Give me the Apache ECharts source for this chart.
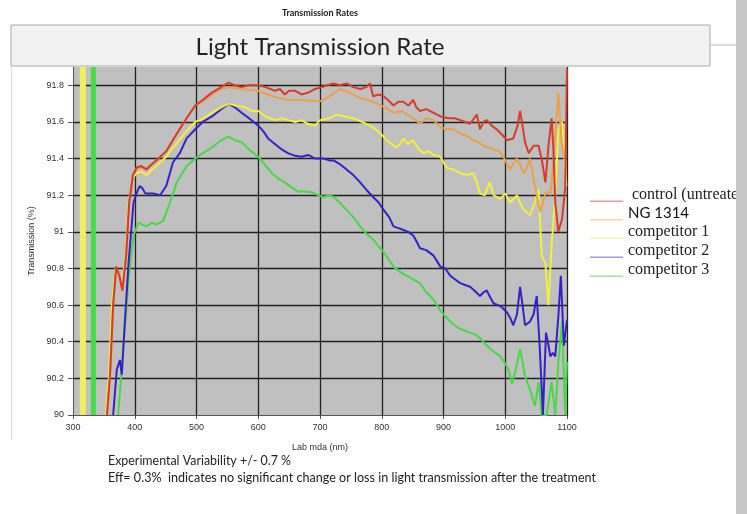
<!DOCTYPE html>
<html>
<head>
<meta charset="utf-8">
<title>Light Transmission Rate</title>
<script src="https://cdn.jsdelivr.net/npm/echarts@6/dist/echarts.min.js"></script>
<style>
  html, body { margin: 0; padding: 0; background: #fff; }
  #chart { width: 747px; height: 514px; }
</style>
</head>
<body>
<div id="chart"></div>
<script>
// wavelength (nm) / transmission (%) pairs
const controlData = [[355,90],[360,90.22],[365,90.6],[370,90.81],[375,90.76],[380,90.68],[386,90.87],[391,91.16],[397,91.31],[403,91.35],[410,91.36],[419,91.34],[428,91.37],[435,91.39],[451,91.44],[467,91.53],[484,91.62],[498,91.69],[510,91.72],[525,91.76],[540,91.79],[552,91.815],[562,91.8],[573,91.79],[585,91.8],[600,91.8],[612,91.79],[627,91.77],[635,91.78],[643,91.75],[650,91.77],[660,91.77],[670,91.75],[681,91.76],[692,91.78],[703,91.79],[712,91.8],[722,91.81],[732,91.8],[743,91.81],[754,91.79],[765,91.78],[775,91.79],[781,91.81],[786,91.74],[795,91.75],[803,91.74],[810,91.72],[819,91.69],[827,91.71],[835,91.71],[843,91.69],[851,91.72],[856,91.68],[862,91.66],[872,91.67],[884,91.65],[895,91.63],[908,91.62],[918,91.62],[927,91.61],[935,91.6],[943,91.59],[954,91.64],[959,91.56],[965,91.6],[970,91.61],[978,91.58],[986,91.56],[995,91.53],[1003,91.5],[1013,91.51],[1020,91.58],[1024,91.66],[1028,91.58],[1032,91.49],[1038,91.43],[1046,91.47],[1054,91.47],[1060,91.38],[1065,91.27],[1070,91.47],[1075,91.62],[1078,91.45],[1081,91.16],[1086,91.0],[1092,91.07],[1097,91.24],[1100,91.89]];
const ngData = [[355,90],[360,90.22],[365,90.6],[370,90.81],[375,90.76],[380,90.68],[386,90.87],[391,91.16],[397,91.31],[403,91.35],[410,91.35],[419,91.35],[428,91.37],[435,91.39],[451,91.44],[467,91.53],[484,91.62],[498,91.69],[510,91.71],[525,91.75],[540,91.78],[552,91.79],[573,91.78],[600,91.77],[615,91.75],[633,91.73],[650,91.72],[670,91.72],[690,91.715],[703,91.715],[715,91.74],[732,91.78],[748,91.76],[765,91.73],[778,91.72],[792,91.7],[805,91.68],[819,91.65],[833,91.66],[846,91.63],[855,91.61],[862,91.59],[872,91.62],[884,91.61],[895,91.57],[905,91.56],[916,91.56],[925,91.54],[932,91.53],[940,91.52],[948,91.5],[956,91.49],[965,91.47],[973,91.46],[981,91.45],[990,91.44],[997,91.41],[1003,91.37],[1008,91.34],[1013,91.37],[1019,91.4],[1025,91.36],[1030,91.32],[1035,91.35],[1040,91.4],[1044,91.33],[1048,91.25],[1052,91.18],[1057,91.11],[1061,91.16],[1065,91.21],[1069,91.22],[1073,91.2],[1077,91.35],[1081,91.52],[1086,91.76],[1089,91.6],[1092,91.47],[1095,91.42],[1099,91.38]];
const comp1Data = [[353,90],[358,90.2],[363,90.6],[369,90.8],[374,90.77],[379,90.7],[385,90.87],[390,91.15],[396,91.29],[403,91.32],[410,91.33],[419,91.31],[428,91.34],[435,91.36],[451,91.41],[467,91.48],[484,91.55],[498,91.6],[512,91.62],[525,91.65],[540,91.68],[552,91.7],[563,91.69],[579,91.68],[590,91.66],[600,91.66],[612,91.63],[627,91.61],[638,91.62],[649,91.61],[660,91.6],[670,91.61],[680,91.59],[692,91.58],[700,91.61],[715,91.62],[727,91.64],[740,91.63],[754,91.62],[768,91.6],[781,91.58],[790,91.56],[797,91.54],[808,91.5],[816,91.48],[824,91.46],[830,91.48],[835,91.51],[842,91.48],[851,91.5],[860,91.45],[868,91.43],[876,91.44],[884,91.42],[895,91.41],[905,91.35],[916,91.34],[927,91.32],[938,91.31],[948,91.32],[954,91.27],[959,91.21],[967,91.2],[975,91.27],[981,91.2],[992,91.18],[1000,91.21],[1008,91.16],[1019,91.2],[1025,91.15],[1030,91.12],[1040,91.09],[1048,91.16],[1054,91.23],[1059,90.87],[1065,90.83],[1070,90.6],[1075,90.92],[1081,91.2],[1086,91.56],[1092,91.6],[1099,91.25]];
const comp2Data = [[365,90],[371,90.25],[376,90.3],[379,90.22],[384,90.51],[390,90.83],[398,91.16],[404,91.22],[408,91.25],[412,91.24],[417,91.21],[425,91.21],[430,91.21],[441,91.2],[451,91.25],[462,91.38],[473,91.43],[484,91.51],[498,91.56],[510,91.6],[525,91.63],[540,91.67],[552,91.7],[562,91.68],[573,91.65],[585,91.62],[600,91.58],[608,91.55],[616,91.51],[627,91.48],[638,91.45],[648,91.43],[660,91.415],[670,91.41],[681,91.42],[692,91.4],[706,91.4],[715,91.39],[722,91.39],[732,91.37],[743,91.34],[754,91.31],[765,91.27],[775,91.23],[786,91.19],[795,91.16],[803,91.12],[812,91.08],[819,91.03],[827,91.02],[835,91.01],[843,91.0],[851,90.98],[856,90.95],[862,90.91],[872,90.9],[884,90.87],[895,90.81],[903,90.8],[911,90.76],[919,90.74],[927,90.72],[935,90.71],[943,90.7],[950,90.68],[959,90.65],[965,90.67],[970,90.68],[976,90.64],[981,90.61],[994,90.59],[1003,90.56],[1008,90.53],[1013,90.49],[1019,90.55],[1024,90.7],[1028,90.6],[1032,90.49],[1040,90.51],[1046,90.55],[1051,90.65],[1056,90.36],[1061,90.0],[1066,90.45],[1069,90.4],[1073,90.32],[1077,90.34],[1081,90.32],[1086,90.54],[1090,90.76],[1095,90.38],[1100,90.52]];
const comp3Data = [[373,90],[381,90.34],[390,90.74],[398,90.98],[406,91.05],[412,91.04],[419,91.03],[428,91.05],[435,91.04],[446,91.06],[457,91.16],[468,91.27],[484,91.36],[498,91.4],[510,91.43],[525,91.46],[540,91.5],[552,91.52],[562,91.5],[573,91.49],[585,91.45],[600,91.41],[610,91.37],[622,91.32],[633,91.29],[643,91.27],[655,91.24],[665,91.22],[676,91.22],[687,91.215],[697,91.2],[706,91.19],[715,91.2],[722,91.19],[732,91.16],[743,91.12],[754,91.08],[765,91.03],[775,90.99],[786,90.96],[795,90.92],[803,90.89],[811,90.85],[819,90.81],[830,90.78],[841,90.76],[851,90.74],[862,90.72],[872,90.67],[884,90.63],[895,90.57],[908,90.52],[918,90.49],[927,90.47],[935,90.46],[943,90.45],[951,90.44],[959,90.42],[967,90.39],[976,90.36],[984,90.34],[992,90.32],[1000,90.28],[1005,90.25],[1011,90.17],[1017,90.25],[1024,90.36],[1028,90.29],[1032,90.21],[1040,90.14],[1048,90.05],[1054,90.18],[1059,90.0],[1067,90.0],[1075,90.18],[1081,90.0],[1086,90.29],[1092,90.51],[1097,90.0],[1100,90.29]];

// the two off-scale vertical traces near 320 nm
const yellowBand = [[316,90],[316,91.9]];
const greenBand = [[333,90],[333,91.9]];

const seriesNames = ['control (untreated)', 'NG 1314', 'competitor 1', 'competitor 2', 'competitor 3'];
const seriesColors = ['#d83a2c', '#eba04a', '#f2f03c', '#3422c8', '#48d848'];
const legendColors = ['#f09a9a', '#f4d8a8', '#f6f4b8', '#9c9ce0', '#a8dca8'];
const xTicks = { min: 300, max: 1100, interval: 100 };
const yTicks = { min: 90, max: 91.9, interval: 0.2 };

// the scan uses a condensed sans; squeeze Lato to the widths seen in it
const measureCtx = document.createElement('canvas').getContext('2d');
function squeeze(text, font, targetWidth) {
  measureCtx.font = font;
  return targetWidth / measureCtx.measureText(text).width;
}

const titleText = 'Light Transmission Rate';
const noteLine1 = 'Experimental Variability +/- 0.7 %';
const noteLine2 = 'Eff= 0.3%  indicates no significant change or loss in light transmission after the treatment';

const chart = echarts.init(document.getElementById('chart'));

const labelFont = { fontFamily: 'Liberation Sans', fontSize: 9, color: '#333' };
const dataSets = [controlData, ngData, comp1Data, comp2Data, comp3Data];

const lineSeries = seriesNames.map((name, i) => ({
  name,
  type: 'line',
  data: dataSets[i],
  showSymbol: false,
  symbol: 'none',
  clip: true,
  z: 10 - i,
  lineStyle: { color: seriesColors[i], width: 2 },
  itemStyle: { color: seriesColors[i] }
}));

// legend key: thin line sitting near the bottom of a 33x14 box
const legendIcon = 'path://M0,0L0.01,0M0,12L33,12L33,13.4L0,13.4Z';

chart.setOption({
  backgroundColor: '#fff',
  animation: false,
  grid: {
    left: 73, right: 180, top: 67, bottom: 99,
    show: true, backgroundColor: '#c0c0c0', borderWidth: 0
  },
  legend: {
    orient: 'vertical',
    left: 585,
    top: 182,
    itemWidth: 33,
    itemHeight: 14,
    itemGap: 3,
    icon: legendIcon,
    symbolKeepAspect: false,
    data: seriesNames.map((n, i) => ({ name: n, itemStyle: { color: legendColors[i] } })),
    formatter: (name) => name === 'NG 1314' ? '{s|' + name + '}' : '{t|' + (name === seriesNames[0] ? ' ' : '') + name + '}',
    textStyle: {
      rich: {
        t: { fontFamily: 'Liberation Serif', fontSize: 16, color: '#222' },
        s: { fontFamily: 'Lato', fontSize: 15, color: '#111' }
      }
    }
  },
  xAxis: {
    type: 'value',
    min: xTicks.min, max: xTicks.max, interval: xTicks.interval,
    name: 'Lab mda (nm)',
    nameLocation: 'middle',
    nameGap: 28,
    nameTextStyle: labelFont,
    axisLine: { show: true, lineStyle: { color: '#555', width: 1 } },
    axisTick: { show: true, length: 4, lineStyle: { color: '#555' } },
    axisLabel: Object.assign({ margin: 8, formatter: (v) => String(v) }, labelFont),
    splitLine: { show: true, showMinLine: false, lineStyle: { color: '#222', width: 1.3 } }
  },
  yAxis: {
    type: 'value',
    min: yTicks.min, max: yTicks.max, interval: yTicks.interval,
    name: 'Transmission (%)',
    nameLocation: 'middle',
    nameGap: 37,
    nameTextStyle: labelFont,
    axisLine: { show: true, lineStyle: { color: '#555', width: 1 } },
    axisTick: { show: true, length: 5, lineStyle: { color: '#555' } },
    axisLabel: Object.assign({ margin: 9, showMaxLabel: false }, labelFont),
    splitLine: { show: true, showMinLine: false, showMaxLine: false, lineStyle: { color: '#222', width: 1.3 } }
  },
  series: [
    {
      name: 'band1', type: 'line', data: yellowBand, symbol: 'none', silent: true,
      lineStyle: { color: '#f0f060', width: 6 }, z: 3
    },
    {
      name: 'band2', type: 'line', data: greenBand, symbol: 'none', silent: true,
      lineStyle: { color: '#44dd44', width: 5 }, z: 3
    }
  ].concat(lineSeries),
  graphic: [
    {
      type: 'text', x: 320, y: 13, z: 20,
      style: { text: 'Transmission Rates', fontFamily: 'Lato', fontWeight: 'bold', fontSize: 9, fill: '#222', align: 'center', verticalAlign: 'middle' }
    },
    {
      type: 'rect', shape: { x: 11, y: 25, width: 699, height: 41 }, z: 20,
      style: { fill: '#f1f2f1', stroke: '#a8a8a8', lineWidth: 1 }
    },
    {
      type: 'text', x: 320, y: 47, z: 21,
      scaleX: squeeze(titleText, '24px Lato', 249),
      style: { text: titleText, fontFamily: 'Lato', fontSize: 24, fill: '#222', align: 'center', verticalAlign: 'middle' }
    },
    {
      type: 'line', shape: { x1: 710, y1: 45, x2: 736, y2: 45 }, z: 20,
      style: { stroke: '#bbb', lineWidth: 1 }
    },
    {
      type: 'line', shape: { x1: 11.5, y1: 66, x2: 11.5, y2: 440 }, z: 20,
      style: { stroke: '#dedede', lineWidth: 1 }
    },
    {
      type: 'rect', shape: { x: 736, y: 0, width: 11, height: 514 }, z: 30,
      style: { fill: '#c6c6c6' }
    },
    {
      type: 'text', x: 108, y: 461, z: 20,
      scaleX: squeeze(noteLine1, '13px Lato', 183),
      style: { text: noteLine1, fontFamily: 'Lato', fontSize: 13, fill: '#222', verticalAlign: 'middle' }
    },
    {
      type: 'text', x: 108, y: 478, z: 20,
      scaleX: squeeze(noteLine2, '13px Lato', 488),
      style: { text: noteLine2, fontFamily: 'Lato', fontSize: 13, fill: '#222', verticalAlign: 'middle' }
    }
  ]
});

window.addEventListener('resize', () => chart.resize());
</script>
</body>
</html>
